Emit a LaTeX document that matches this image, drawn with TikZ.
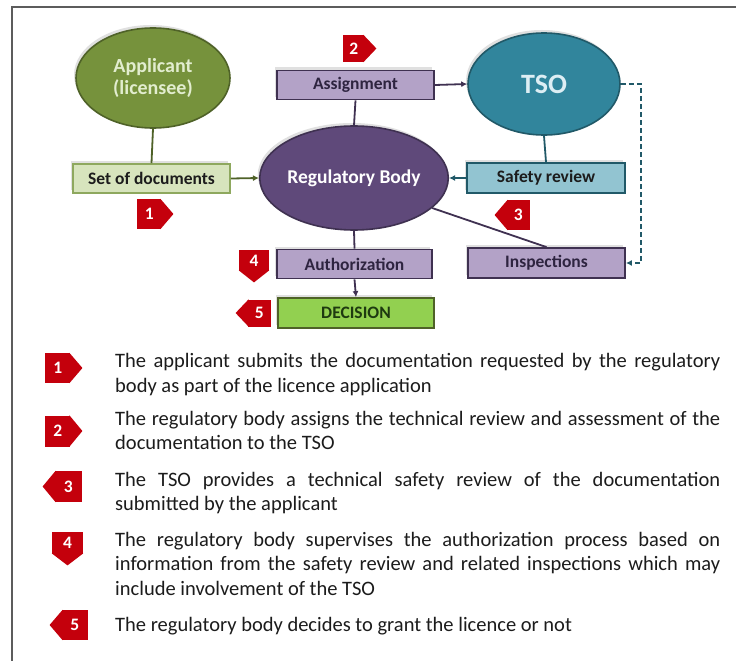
\documentclass[tikz,border=0pt]{standalone}
\usepackage{fontspec}
\setmainfont{Carlito}
\usetikzlibrary{shapes.geometric,arrows.meta,shadows,calc}

\definecolor{appfill}{HTML}{76923C}
\definecolor{appline}{HTML}{4F6228}
\definecolor{apptext}{HTML}{E2EDCF}
\definecolor{docfill}{HTML}{D7E4BD}
\definecolor{docline}{HTML}{8EA85E}
\definecolor{regfill}{HTML}{5F497A}
\definecolor{regline}{HTML}{3F3151}
\definecolor{lavfill}{HTML}{B3A2C7}
\definecolor{lavtext}{HTML}{2E2440}
\definecolor{tsofill}{HTML}{31859C}
\definecolor{tsoline}{HTML}{215968}
\definecolor{tsotext}{HTML}{DDEEF4}
\definecolor{revfill}{HTML}{92C4D1}
\definecolor{decfill}{HTML}{92D050}
\definecolor{dectext}{HTML}{1E3A10}
\definecolor{badgered}{HTML}{C4000C}
\definecolor{framegray}{HTML}{5C5C5C}
\definecolor{bodytext}{HTML}{1C1C1C}

% numbered step flags: a red body with a pointed end
% #1 name, #2 anchor point, #3 body width, #4 body height, #5 number
\newcommand{\flagE}[5]{%
  \node[flagbody,minimum width=#3,minimum height=#4,anchor=west] (#1) at #2 {#5};
  \fill[badgered] ($(#1.north east)+(-1,0)$) -- ($(#1.east)+(12,0)$) -- ($(#1.south east)+(-1,0)$) -- cycle;}
\newcommand{\flagW}[5]{%
  \node[flagbody,minimum width=#3,minimum height=#4,anchor=east] (#1) at #2 {#5};
  \fill[badgered] ($(#1.north west)+(1,0)$) -- ($(#1.west)+(-12,0)$) -- ($(#1.south west)+(1,0)$) -- cycle;}
\newcommand{\flagS}[5]{%
  \node[flagbody,minimum width=#3,minimum height=#4,anchor=north] (#1) at #2 {#5};
  \fill[badgered] ($(#1.south west)+(0,-1)$) -- ($(#1.south)+(0,11)$) -- ($(#1.south east)+(0,-1)$) -- cycle;}

\begin{document}
\begin{tikzpicture}[x=1pt,y=-1pt,
  softshadow/.style={general shadow={fill=black!12,shadow xshift=-2pt,shadow yshift=3pt}},
  oval/.style={ellipse,draw,line width=1.6pt,inner sep=0pt,font=\bfseries,softshadow},
  procbox/.style={rectangle,draw,line width=1.8pt,minimum width=157pt,minimum height=29pt,
                  inner sep=0pt,font=\bfseries\fontsize{17.5}{20}\selectfont,softshadow},
  lavbox/.style={procbox,fill=lavfill,draw=regline,text=lavtext},
  flagbody/.style={rectangle,fill=badgered,text=white,inner sep=0pt,
                font=\bfseries\fontsize{17.5}{17.5}\selectfont},
  link/.style={line width=1.8pt},
  arr/.style={link,-{Latex[length=6pt,width=6pt]}},
  legtext/.style={anchor=base west,text width=605pt,align=justify,inner sep=0pt,
                  font=\fontsize{20.5}{24.5}\selectfont,text=bodytext}]

\useasboundingbox (0,0) rectangle (736,661);
\fill[white] (0,0) rectangle (736,661);

% frame
\draw[framegray,line width=2.2pt] (12,661) -- (12,7) -- (736,7);

% main shapes
\node[oval,fill=appfill,draw=appline,text=apptext,minimum width=154pt,minimum height=100pt,
      align=center,font=\bfseries\fontsize{20}{22}\selectfont] (app) at (153,78) {Applicant\\(licensee)};
\node[oval,fill=regfill,draw=regline,text=white,minimum width=156pt,minimum height=104pt,
      font=\bfseries\fontsize{19.5}{22}\selectfont] (reg) at (354,178) {Regulatory Body};
\node[oval,fill=tsofill,draw=tsoline,text=tsotext,minimum width=152pt,minimum height=102pt,
      font=\bfseries\fontsize{28}{30}\selectfont] (tso) at (544,84) {TSO};

\node[procbox,fill=docfill,draw=docline,text=bodytext] (docs) at (151.5,178.5) {Set of documents};
\node[lavbox] (assign) at (355.5,85) {Assignment};
\node[lavbox,minimum width=155pt] (auth) at (354.5,264) {Authorization};
\node[procbox,fill=decfill,draw=appline,text=dectext,minimum width=156pt,minimum height=30pt] (dec) at (356,313) {DECISION};
\node[procbox,fill=revfill,draw=tsoline,text=bodytext,minimum width=158pt,minimum height=30pt] (rev) at (546,178) {Safety review};
\node[lavbox,minimum height=30pt] (insp) at (546.5,263) {Inspections};

% connectors
\draw[link,appline] (app.south) -- (docs.north);
\draw[arr,appline] (docs.east) -- (reg.west);
\draw[link,regline] (assign.south) -- (reg.north);
\draw[arr,regline] (assign.east) -- (tso.west);
\draw[link,tsoline] (tso.south) -- (rev.north);
\draw[arr,tsoline] (rev.west) -- (reg.east);
\draw[link,regline] (reg.-21) -- (insp.north);
\draw[link,regline] (reg.south) -- (auth.north);
\draw[arr,regline] (auth.south) -- (dec.north);
\draw[link,tsoline,dash pattern=on 5pt off 3pt,-{Latex[length=6pt,width=6pt]}]
  (tso.east) -- ++(20,0) |- (insp.east);

% step flags in the flow
\flagE{b1}{(137,214)}{24pt}{30pt}{1}
\flagE{b2}{(343,48.5)}{21pt}{27pt}{2}
\flagW{b3}{(530,215)}{23pt}{30pt}{3}
\flagS{b4}{(254,250)}{30pt}{21pt}{4}
\flagW{b5}{(271,313)}{23pt}{27pt}{5}

% legend flags
\flagE{l1}{(45,368)}{25pt}{30pt}{1}
\flagE{l2}{(45,431)}{25pt}{31pt}{2}
\flagW{l3}{(82,486.5)}{27pt}{31pt}{3}
\flagS{l4}{(67.5,532)}{31pt}{22pt}{4}
\flagW{l5}{(88,625)}{26pt}{30pt}{5}

% legend texts, broken into lines as printed
\node[legtext] (t1) at (115,367.5) {The applicant submits the documentation requested by the regulatory\linebreak body as part of the licence application};
\node[legtext] (t2) at (115,425) {The regulatory body assigns the technical review and assessment of the\linebreak documentation to the TSO};
\node[legtext] (t3) at (115,486) {The TSO provides a technical safety review of the documentation\linebreak submitted by the applicant};
\node[legtext] (t4) at (115,546) {The regulatory body supervises the authorization process based on\linebreak information from the safety review and related inspections which may\linebreak include involvement of the TSO};
\node[legtext] (t5) at (115,631) {The regulatory body decides to grant the licence or not};
\end{tikzpicture}
\end{document}
